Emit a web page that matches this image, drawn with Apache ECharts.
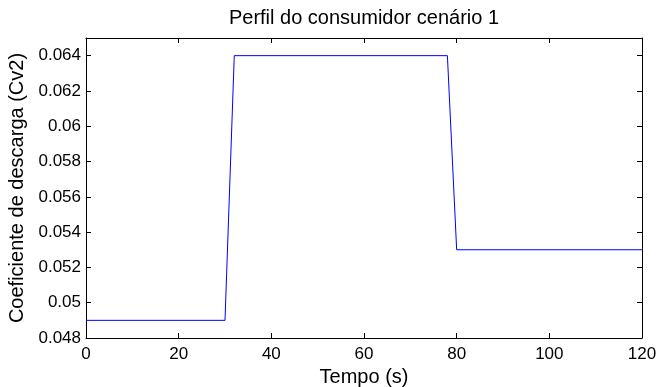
<!DOCTYPE html>
<html>
<head>
<meta charset="utf-8">
<script src="https://cdn.jsdelivr.net/npm/echarts@6/dist/echarts.min.js"></script>
<style>
  html, body { margin: 0; padding: 0; background: #fff; }
  #chart { width: 658px; height: 387px; }
</style>
</head>
<body>
<div id="chart"></div>
<script>
// Consumer discharge-coefficient profile, scenario 1
const timeValues = [0, 30, 32, 78, 80, 120];           // s
const cv2Values = [0.049, 0.049, 0.064, 0.064, 0.053, 0.053];
const xTicks = [0, 20, 40, 60, 80, 100, 120];
const yTicks = [0.048, 0.05, 0.052, 0.054, 0.056, 0.058, 0.06, 0.062, 0.064];

const FONT = '"Liberation Sans", Arial, Helvetica, sans-serif';
const TICK_SIZE = 17;
const LABEL_SIZE = 20;

const grid = { left: 86, right: 16, top: 38, bottom: 49, outerBoundsMode: 'none', containLabel: false };
const plotCenterX = grid.left + (658 - grid.left - grid.right) / 2;

function fmtY(v) {
  const r = Math.round(v * 1000) / 1000;
  return yTicks.some(t => Math.abs(t - r) < 1e-9) ? String(parseFloat(r.toFixed(3))) : '';
}

const chart = echarts.init(document.getElementById('chart'), null, { renderer: 'canvas' });

const frameLine = { show: true, onZero: false, lineStyle: { color: '#000', width: 1 } };
const insideTick = { show: true, inside: true, length: 5, lineStyle: { color: '#000', width: 1 } };

chart.setOption({
  animation: false,
  backgroundColor: '#fff',
  grid: grid,
  graphic: [{
    type: 'text',
    x: plotCenterX,
    y: 18,
    style: {
      text: 'Perfil do consumidor cenário 1',
      fill: '#000',
      font: LABEL_SIZE + 'px ' + FONT,
      align: 'center',
      verticalAlign: 'middle'
    }
  }],
  xAxis: [{
    type: 'value',
    position: 'bottom',
    min: xTicks[0],
    max: xTicks[xTicks.length - 1],
    interval: 20,
    axisLine: frameLine,
    axisTick: insideTick,
    splitLine: { show: false },
    axisLabel: { color: '#000', fontSize: TICK_SIZE, fontFamily: FONT, margin: 8 },
    name: 'Tempo (s)',
    nameLocation: 'middle',
    nameGap: 28,
    nameTextStyle: { color: '#000', fontSize: LABEL_SIZE, fontFamily: FONT }
  }, {
    type: 'value',
    position: 'top',
    min: xTicks[0],
    max: xTicks[xTicks.length - 1],
    interval: 20,
    axisLine: frameLine,
    axisTick: insideTick,
    splitLine: { show: false },
    axisLabel: { show: false }
  }],
  yAxis: [{
    type: 'value',
    position: 'left',
    min: 0.048,
    max: 0.065,
    interval: 0.002,
    axisLine: frameLine,
    axisTick: insideTick,
    splitLine: { show: false },
    axisLabel: {
      color: '#000', fontSize: TICK_SIZE, fontFamily: FONT, margin: 5,
      showMaxLabel: false, formatter: fmtY
    },
    name: 'Coeficiente de descarga (Cv2)',
    nameLocation: 'middle',
    nameGap: 56,
    nameTextStyle: { color: '#000', fontSize: LABEL_SIZE, fontFamily: FONT }
  }, {
    type: 'value',
    position: 'right',
    min: 0.048,
    max: 0.065,
    interval: 0.002,
    axisLine: frameLine,
    axisTick: insideTick,
    splitLine: { show: false },
    axisLabel: { show: false }
  }],
  series: [{
    type: 'line',
    xAxisIndex: 0,
    yAxisIndex: 0,
    data: timeValues.map((t, i) => [t, cv2Values[i]]),
    showSymbol: false,
    symbol: 'none',
    lineStyle: { color: '#0000ff', width: 1 },
    silent: true,
    z: 10
  }]
});
</script>
</body>
</html>
